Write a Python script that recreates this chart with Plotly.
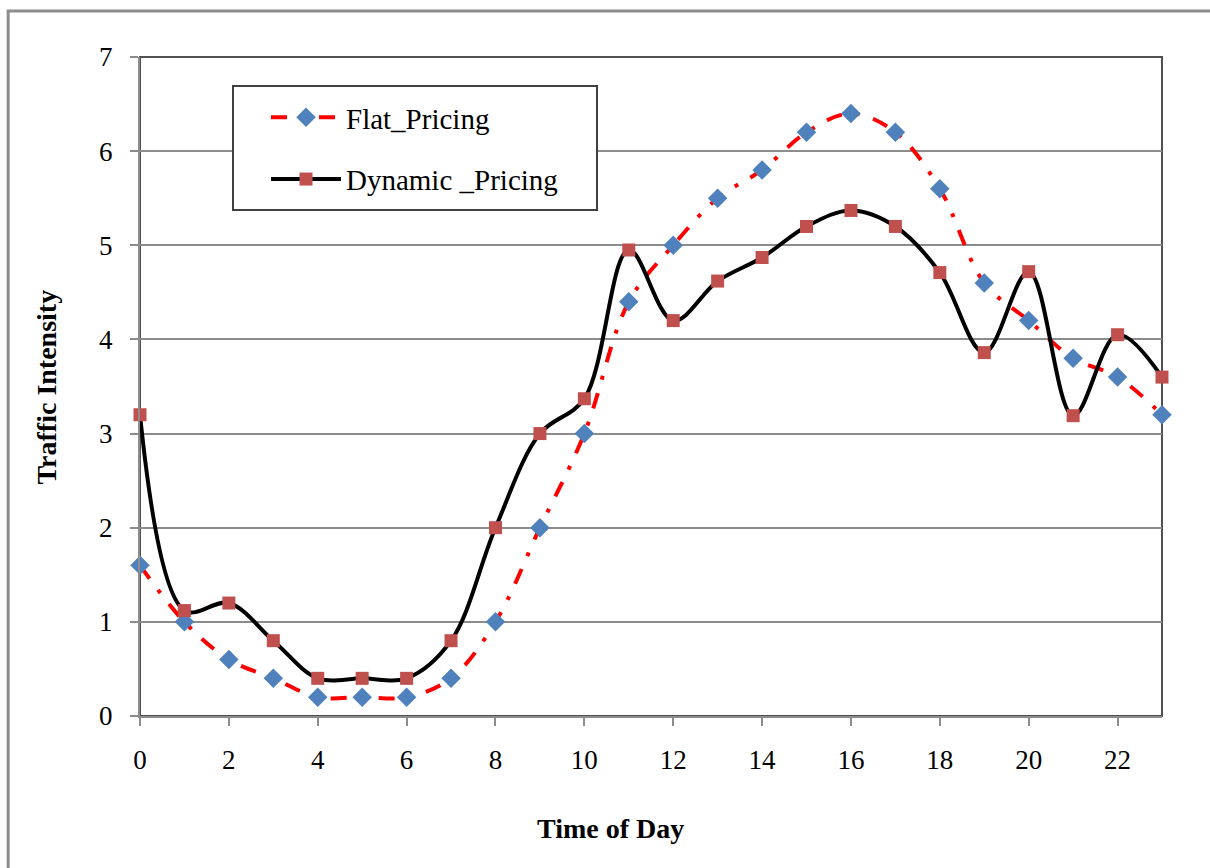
import plotly.graph_objects as go

hours = list(range(24))
flat_pricing = [1.6, 1.0, 0.6, 0.4, 0.2, 0.2, 0.2, 0.4, 1.0, 2.0, 3.0, 4.4,
                5.0, 5.5, 5.8, 6.2, 6.4, 6.2, 5.6, 4.6, 4.2, 3.8, 3.6, 3.2]
dynamic_pricing = [3.2, 1.12, 1.2, 0.8, 0.4, 0.4, 0.4, 0.8, 2.0, 3.0, 3.37, 4.95,
                   4.2, 4.62, 4.87, 5.2, 5.37, 5.2, 4.71, 3.86, 4.72, 3.19, 4.05, 3.6]
x_ticks = list(range(0, 23, 2))
y_ticks = list(range(0, 8))

FONT = "Liberation Serif, Times New Roman, serif"

fig = go.Figure()
fig.add_trace(go.Scatter(
    x=hours, y=flat_pricing, name="Flat_Pricing", mode="lines+markers",
    line=dict(color="#FF0000", width=4, dash="16px,14px,4px,14px", shape="spline", smoothing=1.0),
    marker=dict(symbol="diamond", size=15, color="#4F81BD"),
    cliponaxis=False, legendgroup="a",
))
fig.add_trace(go.Scatter(
    x=hours, y=dynamic_pricing, name="Dynamic _Pricing", mode="lines+markers",
    line=dict(color="#000000", width=4, shape="spline", smoothing=1.0),
    marker=dict(symbol="square", size=13, color="#C0504D"),
    cliponaxis=False, legendgroup="b",
))

axis_common = dict(
    showline=True, linecolor="#8C8C8C", linewidth=2,
    ticks="outside", ticklen=8, tickwidth=2, tickcolor="#8C8C8C",
    tickfont=dict(family=FONT, size=27, color="#000000"),
    zeroline=False,
)
fig.update_xaxes(range=[0, 23], tickvals=x_ticks, showgrid=False,
                 ticklabelstandoff=11, **axis_common)
fig.update_yaxes(range=[0, 7], tickvals=y_ticks, showgrid=True,
                 gridcolor="#8C8C8C", gridwidth=2, ticklabelstandoff=12,
                 **axis_common)

fig.update_layout(
    width=1210, height=868,
    margin=dict(l=140, r=48, t=57, b=152),
    paper_bgcolor="white", plot_bgcolor="white",
    font=dict(family=FONT, color="#000000"),
    showlegend=True,
    legend=dict(
        x=(266 - 140) / 1022, y=(716 - 92) / 659, xanchor="left", yanchor="top",
        borderwidth=0, bgcolor="rgba(0,0,0,0)",
        font=dict(family=FONT, size=29, color="#000000"),
        itemwidth=70, tracegroupgap=21, traceorder="grouped",
    ),
    shapes=[
        dict(type="rect", xref="paper", yref="paper", x0=0, x1=1, y0=0, y1=1,
             line=dict(color="#505050", width=2), layer="below"),
        dict(type="rect", xref="paper", yref="paper", x0=-0.129, x1=1.3, y0=-0.5, y1=1.0698,
             line=dict(color="#8C8C8C", width=3), layer="below"),
        dict(type="rect", xref="paper", yref="paper",
             x0=(233 - 140) / 1022, x1=(597 - 140) / 1022,
             y0=(716 - 210) / 659, y1=(716 - 86) / 659,
             line=dict(color="#404040", width=2), fillcolor="white", layer="above"),
    ],
    annotations=[
        dict(text="<b>Time of Day</b>", xref="paper", yref="paper", x=0.46, y=-0.17,
             showarrow=False, font=dict(family=FONT, size=28), xanchor="center", yanchor="middle"),
        dict(text="<b>Traffic Intensity</b>", xref="paper", yref="paper", x=-0.091, y=0.5,
             showarrow=False, textangle=-90, font=dict(family=FONT, size=28),
             xanchor="center", yanchor="middle"),
    ],
)

fig.write_html("out.html")
